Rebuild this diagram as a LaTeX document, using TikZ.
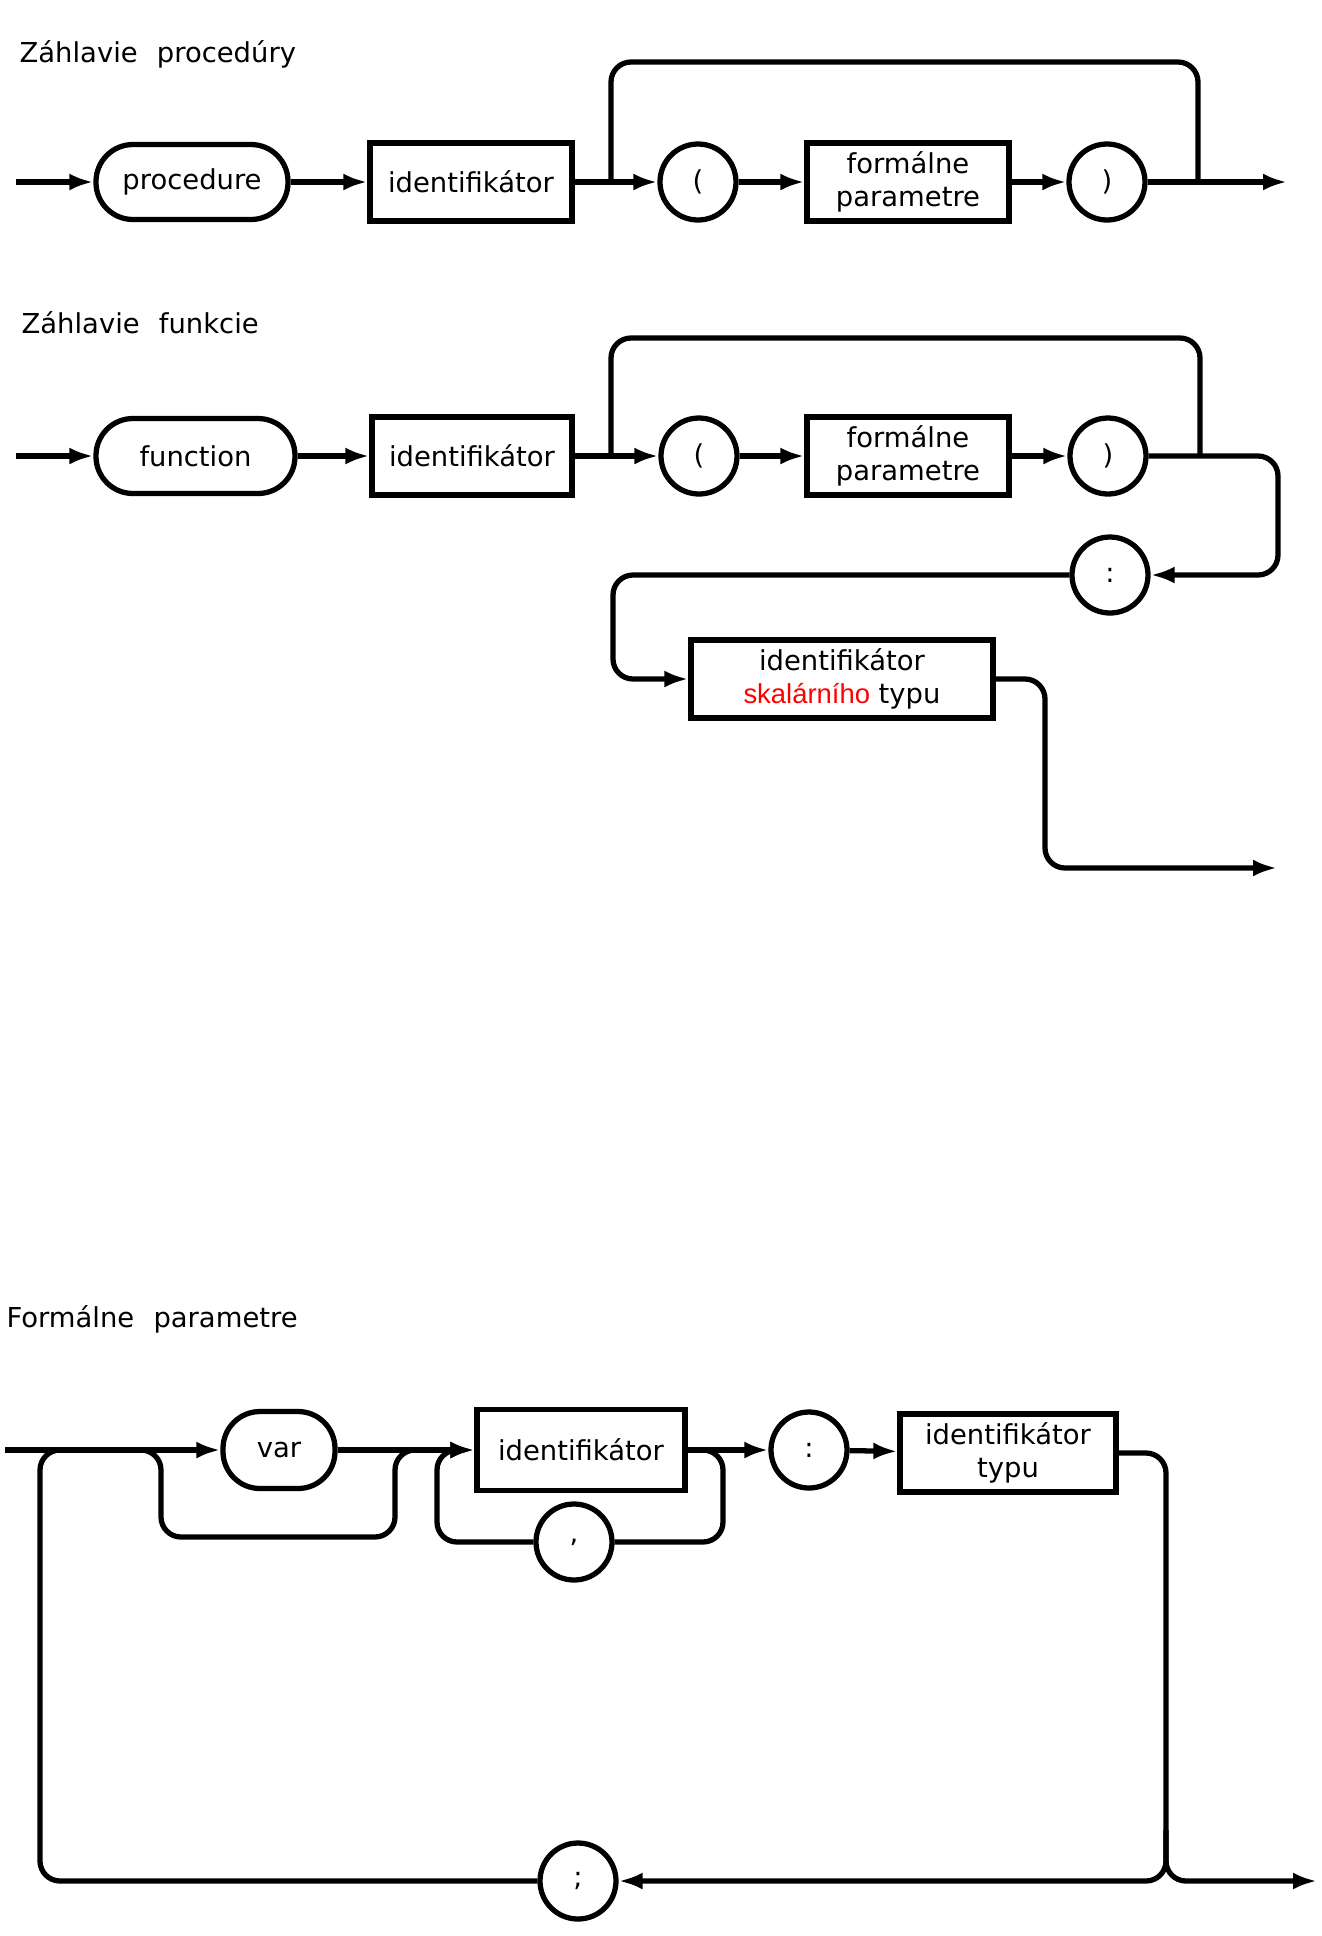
\documentclass[tikz,border=0pt]{standalone}
\usepackage{fontspec}
\setmainfont{DejaVu Sans}
\newfontfamily\redfont{Liberation Sans}
\usetikzlibrary{arrows.meta}
\begin{document}
\begin{tikzpicture}[>={Latex[length=2.4mm,width=1.7mm]}, line width=1.5pt,
  font=\fontsize{7.8}{9.4}\selectfont,
  rnd/.style={draw, rounded corners=3.7mm, minimum height=7.5mm, inner sep=0pt},
  bx/.style={draw, minimum height=7.8mm, inner sep=0pt, align=center},
  crc/.style={draw, circle, minimum size=7.6mm, inner sep=0pt},
  hdr/.style={anchor=base west, inner sep=0pt},
  ln/.style={rounded corners=2mm}]
\useasboundingbox (0,0) rectangle (13.21,-19.36);

\node[hdr] (t1) at (0.17,-0.62) {Záhlavie\hspace{0.7em}procedúry};
\coordinate (s1) at (0.16,-1.82);
\node[rnd, minimum width=19.2mm] (proc) at (1.92,-1.82) {procedure};
\node[bx, minimum width=20.2mm] (id1) at (4.71,-1.82) {identifikátor};
\node[crc] (lp1) at (6.98,-1.82) {(};
\node[bx, minimum width=20.2mm] (fp1) at (9.08,-1.82) {formálne\\parametre};
\node[crc] (rp1) at (11.07,-1.82) {)};
\coordinate (e1) at (12.87,-1.82);
\coordinate (b1) at (6.11,-1.82);
\coordinate (c1) at (11.98,-1.82);
\foreach \a/\b in {s1/proc, proc/id1, id1/lp1, lp1/fp1, fp1/rp1, rp1/e1}
  \draw[->] (\a) -- (\b);
\draw[ln] (b1) -- ++(0,1.2) -| (c1);

\node[hdr] (t2) at (0.19,-3.33) {Záhlavie\hspace{0.7em}funkcie};
\coordinate (s2) at (0.16,-4.56);
\node[rnd, minimum width=19.9mm] (func) at (1.955,-4.56) {function};
\node[bx, minimum width=20mm] (id2) at (4.72,-4.56) {identifikátor};
\node[crc] (lp2) at (6.99,-4.56) {(};
\node[bx, minimum width=20.2mm] (fp2) at (9.08,-4.56) {formálne\\parametre};
\node[crc] (rp2) at (11.08,-4.56) {)};
\node[crc] (col2) at (11.10,-5.75) {:};
\node[bx, minimum width=30.2mm] (skal) at (8.42,-6.79) {identifikátor\\{\redfont\color{red}skalárního} typu};
\coordinate (e2) at (12.77,-8.68);
\coordinate (b2) at (6.11,-4.56);
\coordinate (c2) at (12.00,-4.56);
\foreach \a/\b in {s2/func, func/id2, id2/lp2, lp2/fp2, fp2/rp2}
  \draw[->] (\a) -- (\b);
\draw[ln] (b2) -- ++(0,1.18) -| (c2);
\draw[ln,->] (rp2) -| (12.78,-5.75) -- (col2);
\draw[ln,->] (col2) -| (6.13,-6.79) -- (skal);
\draw[ln,->] (skal) -| (10.45,-8.68) -- (e2);

\node[hdr] (t3) at (0.04,-13.27) {Formálne\hspace{0.7em}parametre};
\coordinate (s3) at (0.05,-14.50);
\node[rnd, minimum width=11.2mm, minimum height=7.7mm] (var) at (2.79,-14.50) {var};
\node[bx, minimum width=20.8mm, minimum height=8.1mm] (id3) at (5.81,-14.50) {identifikátor};
\node[crc] (com) at (5.74,-15.42) {,};
\node[crc] (col3) at (8.09,-14.50) {:};
\node[bx, minimum width=21.6mm] (idt) at (10.08,-14.53) {identifikátor\\typu};
\node[crc] (semi) at (5.78,-18.81) {;};
\coordinate (e3) at (13.17,-18.81);
\coordinate (b3) at (1.41,-14.50);
\coordinate (c3) at (4.15,-14.50);
\foreach \a/\b in {s3/var, var/id3, id3/col3, col3/idt}
  \draw[->] (\a) -- (\b);
\draw[ln] (b3) -| (1.61,-15.37) -| (3.95,-14.50) -- (c3);
\draw[ln] (id3) -| (7.23,-15.42) -- (com);
\draw[ln,->] (com) -| (4.37,-14.50) -- (id3);
\draw[ln,->] (idt) -| (11.66,-18.81) -- (semi);
\draw[ln,->] (11.66,-18.3) |- (e3);
\draw[ln] (semi) -| (0.40,-14.50) -- (0.70,-14.50);
\end{tikzpicture}
\end{document}
